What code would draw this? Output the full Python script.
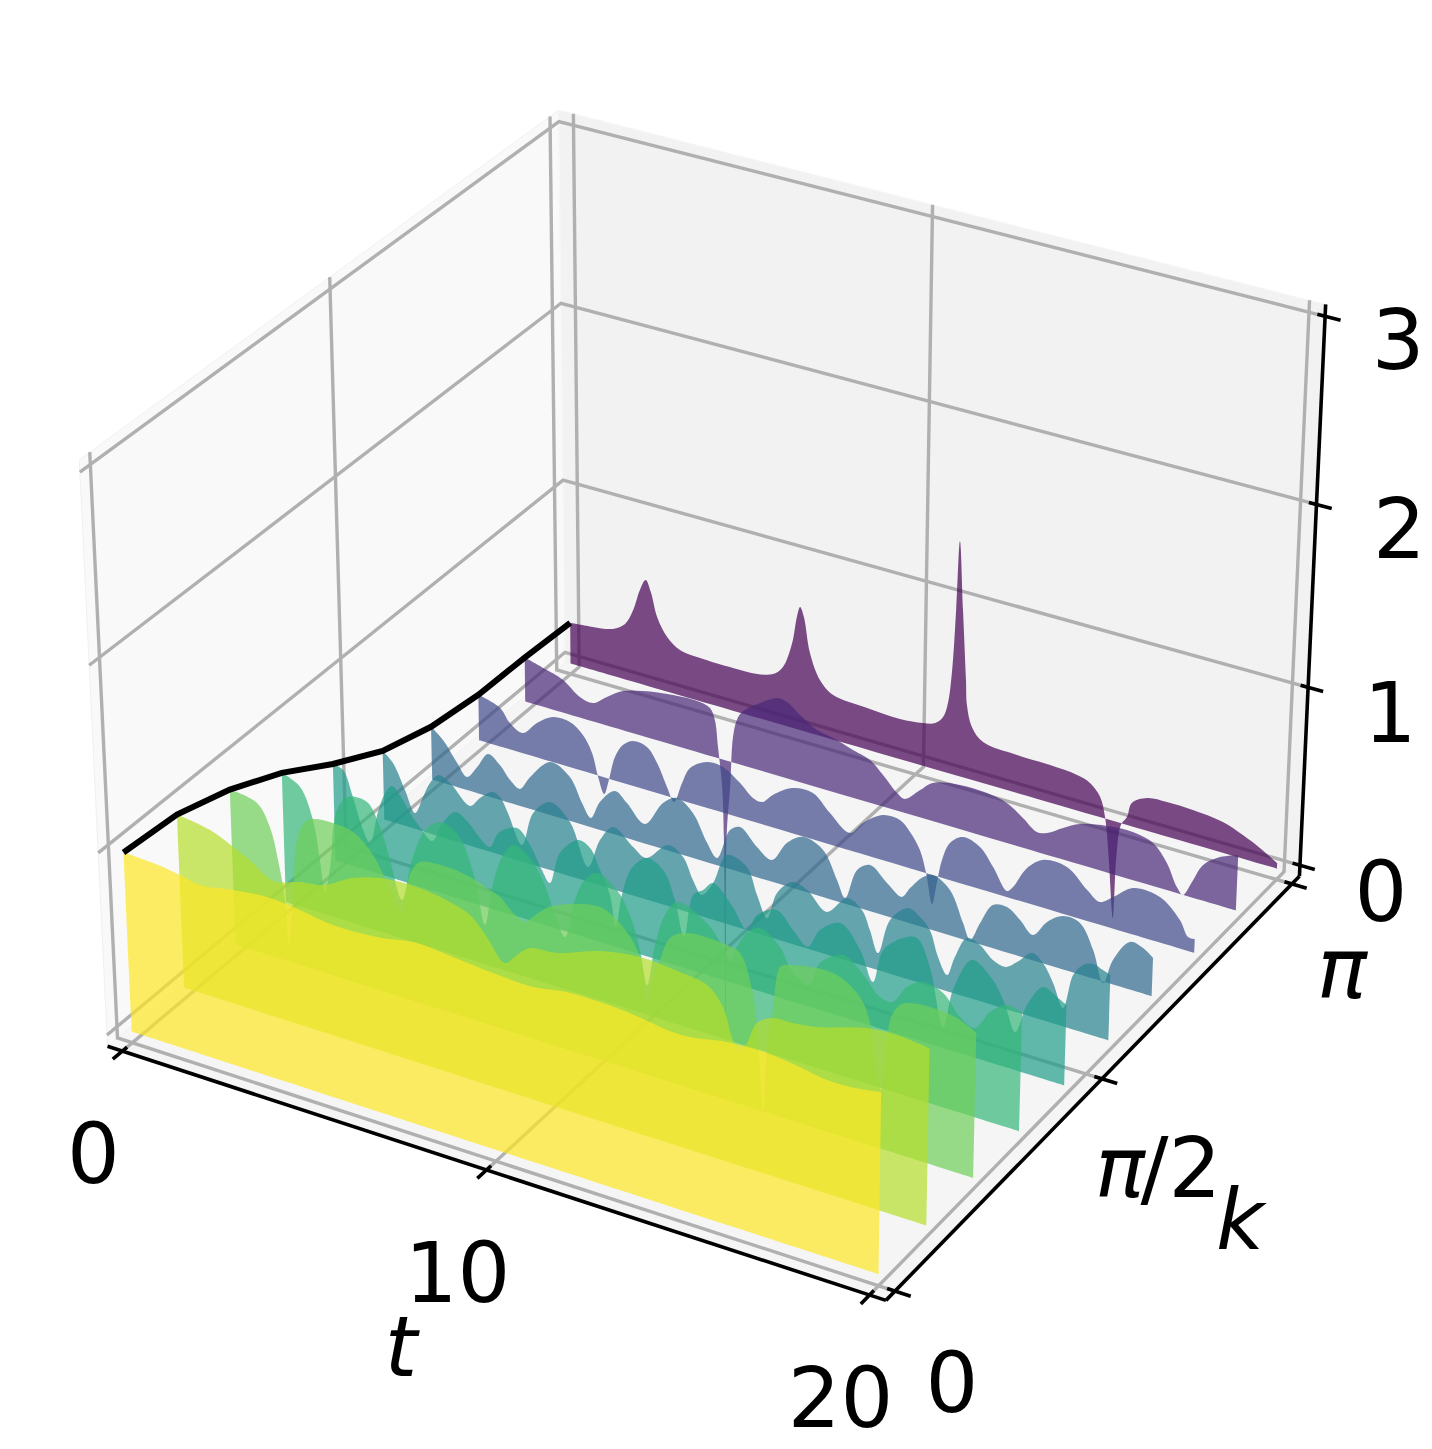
import numpy as np, pandas as pd, altair as alt

# Each slice: (t, value) pairs, one list per k = i*pi/9
S0=[(0,.983),(0.82,.976),(1.56,.957),(2.11,.936),(3.02,.965),(3.95,.985),(4.84,.971),(5.73,.945),(6.92,.955),(7.99,.990),(8.95,.975),(10.01,.956),(11.06,.949),(11.95,.979),(12.82,.980),(13.52,.972),(14.11,.957),(14.55,.943),(15.14,.944),(16.09,.979),(17.11,.987),(17.95,.967),(18.64,.943),(19.22,.945),(20,.969)]
S1=[(0,.956),(0.92,.927),(1.55,.873),(2.09,.819),(2.47,.766),(2.74,.755),(3.39,.795),(4.02,.817),(4.86,.907),(5.60,.952),(6.60,.965),(7.49,.939),(8.03,.902),(8.47,.812),(8.95,.701),(9.27,.764),(9.63,.824),(10.35,.843),(11.49,.925),(12.54,.959),(13.59,.945),(14.30,.920),(14.71,.829),(14.97,.669),(15.13,.626),(15.31,.664),(15.59,.800),(15.98,.852),(16.52,.860),(17.14,.878),(18.41,.954),(19.18,.966),(20,.948)]
S2=[(0,.862),(0.76,.834),(1.10,.722),(1.30,.552),(1.46,.340),(1.53,.092),(1.69,.354),(1.86,.696),(2.10,.810),(2.33,.840),(2.88,.852),(3.44,.836),(3.98,.743),(4.35,.612),(4.61,.507),(4.74,.476),(4.87,.605),(5.05,.726),(5.28,.784),(6.02,.802),(6.65,.786),(7.19,.748),(7.46,.727),(7.86,.653),(8.13,.632),(8.35,.673),(8.73,.746),(9.28,.801),(10.16,.840),(10.78,.769),(11.15,.668),(11.30,.552),(11.43,.397),(11.54,.513),(11.76,.652),(12.03,.788),(12.48,.843),(13.54,.844),(13.88,.823),(14.20,.643),(14.36,.382),(14.50,.007),(14.62,.399),(14.75,.570),(14.93,.813),(15.14,.837),(16.31,.868),(17.01,.784),(17.28,.661),(17.42,.471),(17.58,.319),(17.72,.598),(17.84,.740),(18.04,.807),(18.30,.834),(18.89,.845),(19.50,.831),(20,.784)]
S3=[(0,.725),(0.51,.677),(0.85,.513),(1.01,.300),(1.13,.127),(1.30,.277),(1.54,.611),(1.87,.703),(2.40,.707),(2.75,.589),(3.01,.421),(3.32,.217),(3.63,.459),(4.02,.649),(4.44,.719),(4.94,.677),(5.39,.456),(5.64,.221),(5.89,.470),(6.18,.642),(6.46,.714),(6.92,.671),(7.32,.547),(7.59,.398),(7.86,.292),(8.14,.515),(8.42,.642),(8.75,.701),(9.29,.641),(9.64,.525),(9.91,.349),(10.10,.166),(10.32,.402),(10.59,.584),(10.92,.675),(11.72,.610),(12.15,.506),(12.34,.446),(12.55,.542),(12.82,.629),(13.14,.671),(13.67,.601),(14.02,.481),(14.47,.444),(14.73,.580),(15.34,.662),(15.84,.596),(16.32,.495),(16.64,.488),(17.02,.594),(17.43,.648),(17.96,.621),(18.41,.520),(18.80,.485),(19.18,.596),(19.61,.661),(20,.647)]
S4=[(0,.546),(0.29,.529),(0.55,.393),(0.82,.223),(1.01,.161),(1.26,.351),(1.48,.471),(1.68,.523),(1.90,.485),(2.18,.401),(2.51,.325),(2.79,.280),(3.11,.401),(3.46,.483),(3.82,.449),(4.15,.380),(4.43,.346),(4.63,.426),(4.81,.464),(5.20,.499),(5.56,.426),(5.88,.306),(6.10,.246),(6.39,.432),(6.90,.535),(7.23,.511),(7.50,.405),(7.77,.282),(7.93,.112),(8.10,.302),(8.38,.470),(8.80,.551),(9.24,.511),(9.56,.365),(9.81,.173),(10.06,.423),(10.33,.467),(10.60,.523),(11.14,.424),(11.53,.320),(11.80,.420),(12.33,.481),(12.77,.397),(13.17,.329),(13.49,.442),(14.03,.514),(14.57,.399),(14.92,.245),(15.18,.437),(15.70,.536),(16.07,.559),(16.42,.422),(16.80,.110),(17.04,.335),(17.52,.530),(18.08,.456),(18.41,.340),(18.69,.209),(18.98,.376),(19.38,.500),(19.75,.469),(20,.440)]
S5=[(0,.392),(0.29,.341),(0.62,.207),(0.90,.092),(1.14,.198),(1.35,.290),(1.59,.349),(1.93,.324),(2.49,.228),(2.78,.290),(3.13,.345),(3.35,.330),(3.57,.253),(3.96,.095),(4.29,.296),(4.77,.387),(5.33,.308),(5.83,.084),(6.17,.257),(6.54,.353),(7.10,.274),(7.46,.234),(8.07,.345),(8.49,.303),(8.76,.190),(9.01,.121),(9.32,.207),(9.70,.388),(10.25,.354),(10.53,.215),(10.81,.103),(11.08,.260),(11.49,.346),(11.90,.327),(12.44,.238),(12.98,.349),(13.39,.308),(13.61,.210),(13.84,.095),(14.15,.299),(14.63,.395),(14.95,.366),(15.22,.310),(15.45,.174),(15.70,.089),(15.90,.203),(16.21,.328),(16.56,.311),(16.91,.250),(17.26,.233),(17.55,.278),(17.94,.353),(18.23,.316),(18.51,.223),(18.79,.102),(19.03,.300),(19.28,.371),(19.54,.393),(19.80,.376),(20,.361)]
S6=[(0,.303),(0.34,.247),(0.74,.139),(1.02,.075),(1.32,.150),(1.64,.244),(1.98,.201),(2.27,.132),(2.55,.098),(2.85,.184),(3.43,.304),(3.99,.252),(4.33,.124),(4.58,.054),(4.84,.161),(5.27,.249),(5.61,.201),(6.12,.112),(6.63,.262),(7.02,.314),(7.47,.256),(7.87,.110),(8.15,.041),(8.51,.222),(8.79,.256),(9.26,.172),(9.68,.124),(10.09,.245),(10.53,.306),(11.09,.266),(11.48,.121),(11.71,.033),(12.03,.211),(12.38,.260),(12.85,.188),(13.26,.135),(13.48,.198),(13.83,.282),(14.09,.309),(14.56,.254),(14.93,.091),(15.13,.008),(15.39,.120),(15.72,.242),(16.10,.254),(16.46,.203),(16.81,.141),(17.18,.237),(17.60,.296),(18.05,.286),(18.42,.158),(18.71,-.009),(18.95,.136),(19.38,.263),(19.73,.251),(20,.213)]
S7=[(0,.262),(0.63,.223),(0.91,.153),(1.29,.117),(1.70,.199),(2.17,.261),(2.66,.261),(3.03,.208),(3.29,.120),(3.46,-.009),(3.63,-.097),(3.77,-.007),(3.95,.136),(4.18,.218),(4.47,.258),(4.87,.248),(5.16,.173),(5.44,.052),(5.64,-.023),(5.87,.100),(6.10,.200),(6.58,.263),(7.03,.261),(7.51,.199),(7.88,.135),(8.14,.127),(8.44,.186),(9.00,.259),(9.56,.264),(10.04,.179),(10.60,.099),(10.96,.178),(11.51,.256),(11.98,.256),(12.26,.205),(12.54,.120),(12.72,.000),(12.90,-.166),(13.02,-.038),(13.15,.101),(13.36,.210),(13.71,.265),(14.18,.237),(14.55,.146),(14.94,.034),(15.10,.067),(15.47,.197),(15.89,.268),(16.54,.268),(17.10,.173),(17.45,.127),(17.80,.177),(18.32,.260),(19.04,.254),(19.59,.159),(19.82,.078),(20,.078)]
S8=[(0,.255),(0.54,.226),(1.12,.190),(1.61,.120),(1.99,.107),(2.40,.166),(2.87,.227),(3.45,.261),(4.32,.288),(5.09,.293),(5.38,.275),(5.52,.215),(5.61,.064),(5.73,-.161),(5.78,-.449),(5.85,-1.756),(5.86,-.445),(5.96,-.147),(6.04,.147),(6.15,.252),(6.30,.306),(6.81,.387),(7.29,.444),(7.57,.437),(7.94,.385),(8.42,.327),(8.88,.308),(9.44,.273),(9.92,.244),(10.29,.180),(10.69,.101),(10.91,.080),(11.33,.156),(11.68,.218),(12.43,.251),(13.18,.250),(13.73,.226),(14.18,.168),(14.57,.112),(14.85,.123),(15.28,.178),(15.74,.228),(16.47,.261),(17.17,.270),(17.72,.241),(18.11,.152),(18.40,.033),(18.57,-.002),(18.80,.086),(19.08,.199),(19.52,.271),(20,.311)]
S9=[(0,.238),(0.67,.252),(1.26,.274),(1.62,.323),(1.86,.417),(2.06,.545),(2.23,.612),(2.38,.551),(2.56,.417),(2.85,.317),(3.22,.263),(3.81,.250),(4.76,.247),(5.46,.253),(5.92,.279),(6.20,.336),(6.46,.489),(6.59,.645),(6.68,.707),(6.79,.657),(6.97,.461),(7.26,.322),(7.64,.257),(8.61,.239),(9.54,.230),(10.19,.245),(10.53,.265),(10.75,.312),(10.88,.400),(10.98,.594),(11.06,.938),(11.13,1.328),(11.25,.949),(11.37,.560),(11.41,.420),(11.56,.303),(11.88,.235),(12.83,.217),(13.75,.214),(14.50,.202),(14.86,.178),(15.15,.115),(15.30,.009),(15.44,-.229),(15.60,-.556),(15.64,-.218),(15.74,-.010),(15.90,.045),(16.02,.133),(16.43,.186),(16.97,.196),(17.68,.193),(18.50,.174),(19.05,.133),(19.52,.088),(20,.031)]
SLICES=[S0,S1,S2,S3,S4,S5,S6,S7,S8,S9]
COLORS=["#fde725","#b5de2b","#6ece58","#35b779","#1f9e89","#26828e","#31688e","#3e4989","#482878","#440154"]
T_TICKS=[0,10,20];K_TICKS=[0,np.pi/2,np.pi];Z_TICKS=[0,1,2,3]

W,H=1416,1433
OX,OY,SX,SY=714.5,676.6,7490.0,7486.0
a,c=1.1429,0.8571
d=10.0
w=np.array([0.4330127,-0.75,0.5]);u=np.array([0.8660254,0.5,0.0]);v=np.array([-0.25,0.4330127,0.8660254])
def project(t,k,z):
    q=np.array([(t/20-.5)*a,(k/np.pi-.5)*a,(z/3-.5)*c])
    D=d-w@q
    return OX+SX*(u@q)/D, OY-SY*(v@q)/D
X=alt.X('x:Q',scale=alt.Scale(domain=[8,8+W],nice=False,zero=False),axis=None)
Y=alt.Y('y:Q',scale=alt.Scale(domain=[8+H,8],nice=False,zero=False),axis=None)
E=1/48
T0,T1,K0,K1,Z0,Z1=-20*E,20+20*E,-np.pi*E,np.pi+np.pi*E,-3*E,3+3*E
def frame(pts):
    rows=[]
    for i,(t,k,z) in enumerate(pts):
        x,y=project(t,k,z); rows.append(dict(x=x,y=y,o=i))
    return pd.DataFrame(rows)
def poly(pts,color,**kw):
    return alt.Chart(frame(pts)).mark_line(filled=True,fill=color,**kw).encode(x=X,y=Y,order='o:Q')
def lines(segs,color,width):
    rows=[]
    for g,pts in enumerate(segs):
        f=frame(pts); f['g']=g; rows.append(f)
    return alt.Chart(pd.concat(rows)).mark_line(color=color,strokeWidth=width).encode(x=X,y=Y,order='o:Q',detail='g:N')
layers=[
 poly([(T0,K0,Z0),(T0,K1,Z0),(T1,K1,Z0),(T1,K0,Z0),(T0,K0,Z0)],"#f5f5f5",stroke="#f5f5f5",strokeWidth=1),
 poly([(T0,K0,Z0),(T0,K1,Z0),(T0,K1,Z1),(T0,K0,Z1),(T0,K0,Z0)],"#f9f9f9",stroke="#f0f0f0",strokeWidth=1),
 poly([(T0,K1,Z0),(T1,K1,Z0),(T1,K1,Z1),(T0,K1,Z1),(T0,K1,Z0)],"#f2f2f2",stroke="#f7f7f7",strokeWidth=1),
]
grid=[[(t,K0,Z0),(t,K1,Z0),(t,K1,Z1)] for t in T_TICKS]+[[(T1,k,Z0),(T0,k,Z0),(T0,k,Z1)] for k in K_TICKS]+[[(T0,K0,z),(T0,K1,z),(T1,K1,z)] for z in Z_TICKS]
layers.append(lines(grid,"#b0b0b0",3.4))
axes=[[(T0,K0,Z0),(T1,K0,Z0)],[(T1,K0,Z0),(T1,K1,Z0)],[(T1,K1,Z0),(T1,K1,Z1)]]
ticks=[[(t,K0+.01*np.pi,Z0),(t,K0-.02*np.pi,Z0)] for t in T_TICKS]+[[(T1-.2,k,Z0),(T1+.4,k,Z0)] for k in K_TICKS]+[[(T1-.2,K1,z),(T1+.4,K1,z)] for z in Z_TICKS]
layers.append(lines(axes+ticks,"#000000",3.6))
tops=[];polys=[]
for i,pts in enumerate(SLICES):
    k=np.pi*i/9
    tops.append((pts[0][0],k,pts[0][1]))
    path=[(0,k,0)]*2+[(pts[0][0],k,pts[0][1])]+[(t,k,z) for t,z in pts]+[(pts[-1][0],k,pts[-1][1])]+[(20,k,0)]*2+[(0,k,0)]
    polys.append(alt.Chart(frame(path)).mark_line(filled=True,fill=COLORS[i],fillOpacity=.7,strokeOpacity=0,interpolate='catmull-rom').encode(x=X,y=Y,order='o:Q'))
layers+=polys[::-1]
layers.append(lines([tops],"#000000",6))
labels=[]
for t,s in zip(T_TICKS,["0","10","20"]):
    x,y=project(t,K0,Z0); labels.append(dict(x=x-29,y=y+107,s=s))
for k,s,dx,dy in zip(K_TICKS,["0","/2",""],[57,79,50],[96,93,89]):
    x,y=project(T1,k,Z0); labels.append(dict(x=x+dx,y=y+dy,s=s))
for z,s,dx in zip(Z_TICKS,["0","1","2","3"],[81,82,83,73]):
    x,y=project(T1,K1,z); labels.append(dict(x=x+dx,y=y+31-z,s=s))
layers.append(alt.Chart(pd.DataFrame(labels)).mark_text(font="DejaVu Sans",fontSize=83,color="#000",align='center',baseline='middle').encode(x=X,y=Y,text='s:N'))
px,py=project(T1,K_TICKS[1],Z0); qx,qy=project(T1,K_TICKS[2],Z0)
ax=pd.DataFrame([dict(x=401,y=1351,s='t'),dict(x=1240,y=1224,s='k'),dict(x=px+18,y=py+93,s='π'),dict(x=qx+50,y=qy+89,s='π')])
layers.append(alt.Chart(ax).mark_text(font="DejaVu Sans",fontStyle='italic',fontSize=83,color="#000",align='center',baseline='middle').encode(x=X,y=Y,text='s:N'))
chart=alt.layer(*layers).properties(width=W,height=H,padding=0,autosize=alt.AutoSizeParams(type='none')).configure_view(stroke=None)
chart.save("out.html",embed_options={"renderer":"svg","actions":False})
